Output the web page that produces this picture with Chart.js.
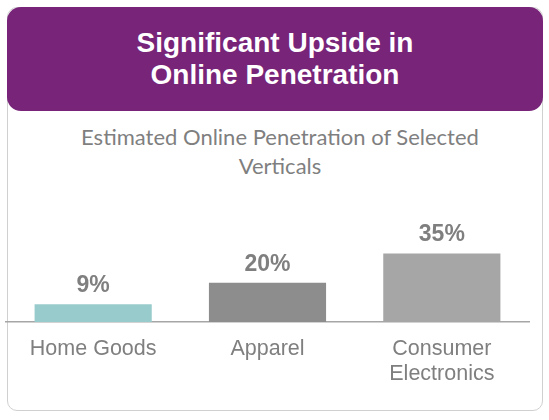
<!DOCTYPE html>
<html>
<head>
<meta charset="utf-8">
<script src="https://cdn.jsdelivr.net/npm/chart.js@4/dist/chart.umd.min.js"></script>
<style>
  html, body { margin: 0; padding: 0; background: #fff; }
  body { width: 549px; height: 420px; position: relative; overflow: hidden; }
  #card {
    position: absolute; left: 7px; top: 7px; width: 536px; height: 404px;
    box-sizing: border-box; border: 1.5px solid #d0d0d0; border-radius: 10px;
  }
  #header {
    position: absolute; left: 7px; top: 7px; width: 536px; height: 104px;
    box-sizing: border-box; padding-top: 20px;
    background: #772479; border-radius: 14px;
    color: #fff; text-align: center;
    font: bold 28px/32px "Liberation Sans", Arial, sans-serif;
  }
  #subtitle {
    position: absolute; left: 0; top: 122px; width: 560px; text-align: center;
    color: #7f7f7f; font: 22px/29px Lato, "Open Sans", sans-serif;
  }
  #wrap { position: absolute; left: 0; top: 190px; width: 549px; height: 220px; }
</style>
</head>
<body>
<div id="card"></div>
<div id="header">Significant Upside in<br>Online Penetration</div>
<div id="subtitle">Estimated Online Penetration of Selected<br>Verticals</div>
<div id="wrap"><canvas id="chart"></canvas></div>
<script>
// chart values
const categories = ["Home Goods", "Apparel", ["Consumer", "Electronics"]];
const shares = [9, 20, 35];
const barColors = ["#98cbcc", "#8d8d8d", "#a6a6a6"];

// draws the "9%" style labels above each bar
const valueLabels = {
  id: "valueLabels",
  afterDatasetsDraw(chart) {
    const ctx = chart.ctx;
    const meta = chart.getDatasetMeta(0);
    ctx.save();
    ctx.font = "bold 23px 'Liberation Sans', Arial, sans-serif";
    ctx.fillStyle = "#7f7f7f";
    ctx.textAlign = "center";
    ctx.textBaseline = "alphabetic";
    meta.data.forEach((bar, i) => {
      ctx.fillText(shares[i] + "%", bar.x, bar.y - 12);
    });
    ctx.restore();
  }
};

const ctx = document.getElementById("chart").getContext("2d");
const chart = new Chart(ctx, {
  type: "bar",
  data: {
    labels: categories,
    datasets: [{
      data: shares,
      backgroundColor: barColors,
      borderWidth: 0,
      categoryPercentage: 1,
      barPercentage: 0.672
    }]
  },
  options: {
    responsive: true,
    maintainAspectRatio: false,
    animation: false,
    layout: { padding: { left: 6, right: 20, top: 34, bottom: 8 } },
    plugins: {
      legend: { display: false },
      tooltip: { enabled: false }
    },
    scales: {
      x: {
        grid: { display: false, drawTicks: false },
        border: { display: true, color: "#a6a6a6", width: 1.5 },
        ticks: {
          padding: 15,
          color: "#7f7f7f",
          font: { family: "'Liberation Sans', Arial, sans-serif", size: 21.5, lineHeight: 1.163 }
        }
      },
      y: {
        display: false,
        min: 0,
        max: 50
      }
    }
  },
  plugins: [valueLabels]
});
</script>
</body>
</html>
